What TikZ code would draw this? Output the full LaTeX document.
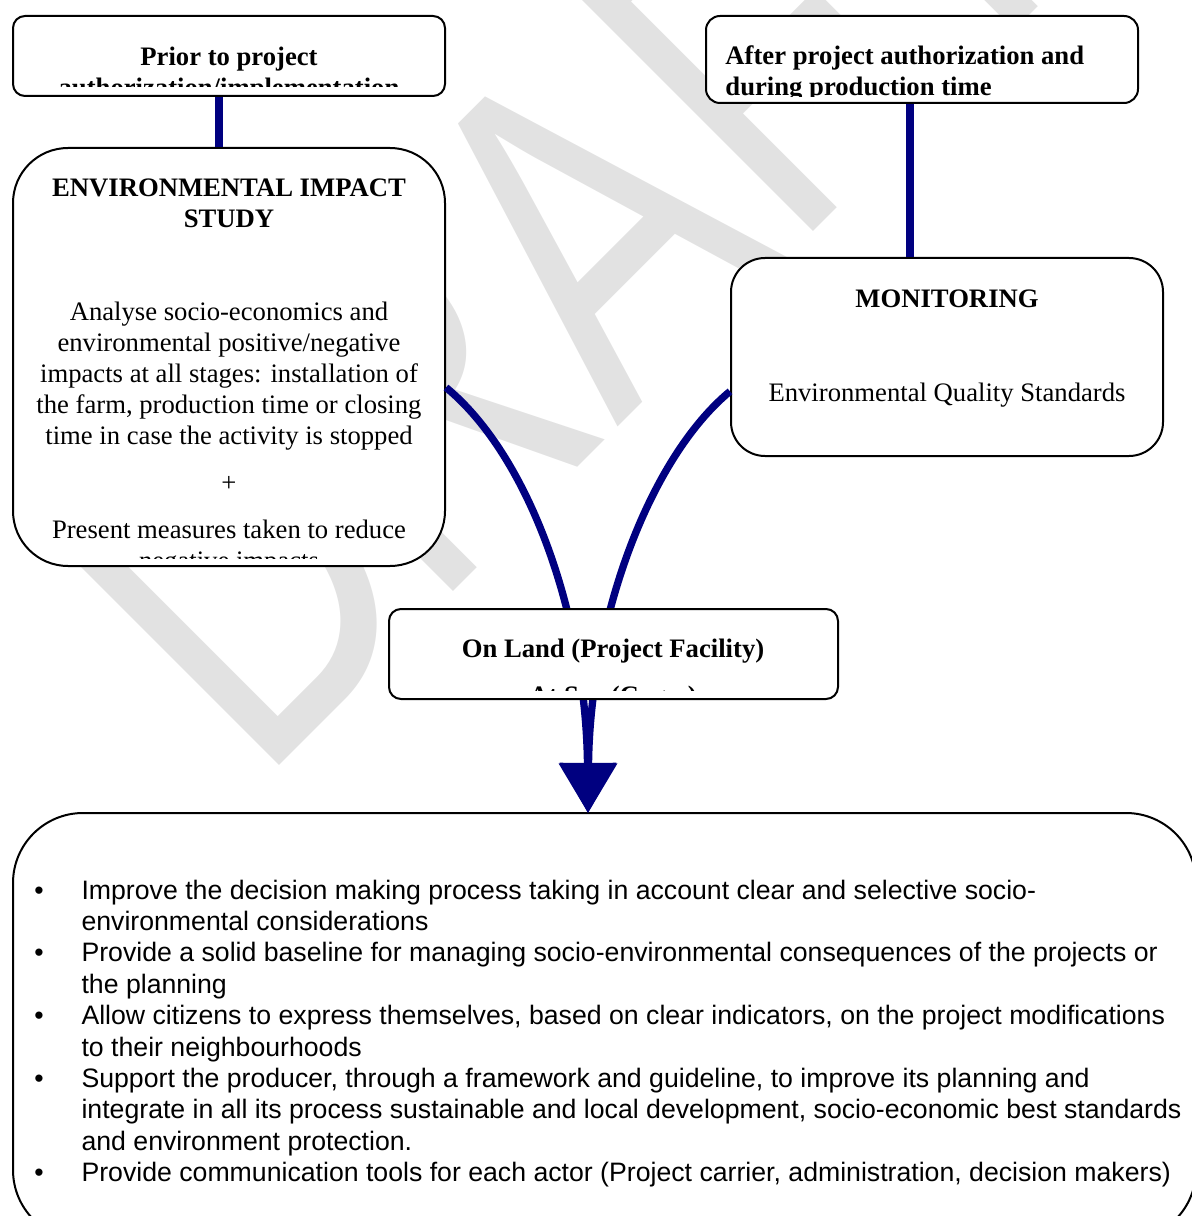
\documentclass[tikz,border=0pt]{standalone}
\usepackage{fontspec}
\usepackage{graphicx}
\setmainfont{Liberation Serif}
\newfontfamily\arialfont{Liberation Sans}
\usetikzlibrary{arrows.meta,fit}
\definecolor{linkblue}{RGB}{0,0,128}
\definecolor{wmgray}{RGB}{226,226,226}
\newcommand\twelve{\fontsize{12}{13.95}\selectfont}

\begin{document}
\begin{tikzpicture}[
        x=0.45pt, y=-0.45pt,
        font=\twelve,
        pane/.style={draw, line width=0.9pt, fill=white, inner sep=0pt, rounded corners=#1},
        pane/.default=5.4pt,
        link/.style={draw=linkblue, line width=3.3pt},
        title/.style={font=\twelve\bfseries, align=center, inner sep=0pt},
        body/.style={font=\twelve, align=center, inner sep=0pt},
    ]
        \clip (0,0) rectangle (1192,1216);

        % Watermark
        \node[rotate=45, anchor=base west, inner sep=0pt, text=wmgray,
              font=\arialfont\fontsize{214}{214}\selectfont] (draft) at (258,787) {\scalebox{0.76}[1]{D\kern-0.04em RA\kern0.02em FT}};

        % Boxes
        \node[pane, fit={(13,16) (445,96)}] (prior) {};
        \node[pane=6.3pt, fit={(706,16) (1138,103)}] (after) {};
        \node[pane=24.75pt, fit={(13,148) (445,566)}] (eis) {};
        \node[pane=15.3pt, fit={(731,258) (1163,456)}] (monitor) {};
        \node[pane=31.5pt, fit={(13,813) (1196,1240)}] (gains) {};
        \coordinate (tip) at (588,813);

        % Connectors (under the facility box)
        \draw[link] ([xshift=-4.5pt]prior.south) -- ([xshift=-4.5pt]prior.south |- eis.north);
        \draw[link] ([xshift=-5.4pt]after.south) -- ([xshift=-5.4pt]after.south |- monitor.north);
        \draw[link, -{Triangle[width=25.2pt, length=22.5pt]}] (eis.-8.7) .. controls +(85,70) and +(-2,-193) .. (tip);
        \draw[link, -{Triangle[width=25.2pt, length=22.5pt]}] (monitor.189.5) .. controls +(-81,67) and +(2,-193) .. (tip);

        \node[pane, fit={(389,609) (838,699)}] (onland) {};

        % Texts, cut at the lower edge of their boxes (base = last line)
        \begin{scope}
            \clip (prior.north west) rectangle (445,87);
            \node[title, anchor=base] (priortext) at (229,97) {Prior to project\\authorization/implementation};
        \end{scope}
        \begin{scope}
            \clip (after.north west) rectangle (1138,97);
            \node[title, align=left, anchor=base west] (aftertext) at (725,96) {After project authorization and\\during production time};
        \end{scope}
        \begin{scope}
            \clip (eis.north west) rectangle (445,558);
            \node[title, anchor=base] (eistitle) at (229,228) {ENVIRONMENTAL IMPACT\\STUDY};
            \node[body, anchor=base] (eisbody) at (229,569) {Analyse socio-economics and\\environmental positive/negative\\impacts at all stages: installation of\\the farm, production time or closing\\time in case the activity is stopped\\[7pt]+\\[7pt]Present measures taken to reduce\\negative impacts};
        \end{scope}
        \node[title, anchor=base] (montitle) at (947,307) {MONITORING};
        \node[body, anchor=base] (monbody) at (947,401) {Environmental Quality Standards};
        \begin{scope}
            \clip (onland.north west) rectangle (838,690);
            \node[title, anchor=base] (landtext) at (613,704) {On Land (Project Facility)\\[7pt]At Sea (Cages)};
        \end{scope}

        % Expected gains
        \node[anchor=base west, inner sep=0pt, font=\arialfont\fontsize{12}{14.13}\selectfont] (gainlist) at (34,899) {%
            \begin{tabular}[t]{@{}p{21.2pt}@{}l@{}}
                \textbullet & Improve the decision making process taking in account clear and selective socio-\\
                 & environmental considerations\\
                \textbullet & Provide a solid baseline for managing socio-environmental consequences of the projects or\\
                 & the planning\\
                \textbullet & Allow citizens to express themselves, based on clear indicators, on the project modifications\\
                 & to their neighbourhoods\\
                \textbullet & Support the producer, through a framework and guideline, to improve its planning and\\
                 & integrate in all its process sustainable and local development, socio-economic best standards\\
                 & and environment protection.\\
                \textbullet & Provide communication tools for each actor (Project carrier, administration, decision makers)\\
            \end{tabular}};
    \end{tikzpicture}
\end{document}
